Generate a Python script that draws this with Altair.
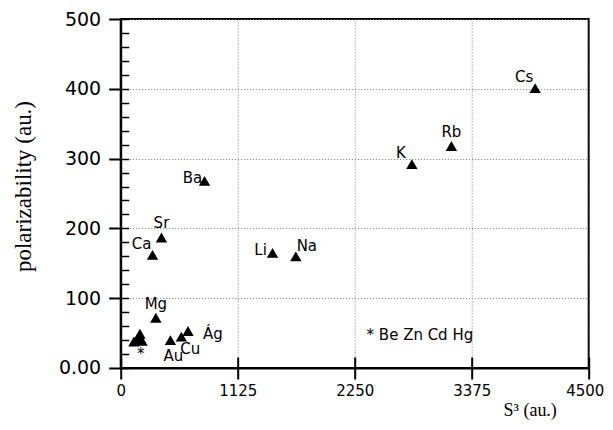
import altair as alt
import pandas as pd

# ---- data ----
names = ["Cs", "Rb", "K", "Ba", "Sr", "Ca", "Li", "Na", "Mg", "Ag", "Cu", "Au",
         "Be", "Zn", "Cd", "Hg"]
s3 = [3985, 3180, 2800, 806, 392, 306, 1460, 1684, 338, 647, 583, 478,
      127, 165, 205, 185]
polar = [401, 318, 292, 268, 187, 162, 165, 160, 72, 53, 45, 40,
         38, 43, 39, 49]
labels = ["Cs", "Rb", "K", "Ba", "Sr", "Ca", "Li", "Na", "Mg", "Ág", "Cu", "Au",
          "", "*", "", ""]
anchors = ["nw", "n", "nw", "w", "n", "nw", "w", "ne", "n", "e", "se", "s",
           "none", "s", "none", "none"]

x_ticks = [0, 1125, 2250, 3375, 4500]
y_ticks = [0, 100, 200, 300, 400, 500]
y_minor = list(range(0, 501, 20))

note_text = ["* Be Zn Cd Hg"]
note_x = [2877]
note_y = [47]

df = pd.DataFrame({"name": names, "s3": s3, "polar": polar,
                   "label": labels, "anchor": anchors})
note_df = pd.DataFrame({"text": note_text, "x": note_x, "y": note_y})

W, H = 468, 349
xscale = alt.Scale(domain=[0, 4500], nice=False, zero=False)
yscale = alt.Scale(domain=[0, 500], nice=False, zero=False)

main_x = alt.Axis(values=x_ticks, format="d", title="S³ (au.)", grid=True,
                  gridDash=[1, 2], gridColor="#777", gridWidth=1,
                  tickSize=11, tickWidth=2, tickColor="black",
                  domainColor="black", domainWidth=2,
                  labelFont="DejaVu Sans", labelFontSize=15, labelColor="black",
                  labelPadding=5, labelFlush=False,
                  labelOffset={"condition": {"test": "datum.value == 4500",
                                             "value": -4}, "value": 0},
                  titleFont="Liberation Serif", titleFontSize=18,
                  titleFontWeight="normal", titleColor="black",
                  titleX=409, titleY=43, titleBaseline="middle",
                  titleAlign="center")
main_y = alt.Axis(values=y_ticks, title="polarizability (au.)", grid=True,
                  gridDash=[1, 2], gridColor="#777", gridWidth=1,
                  tickSize=12, tickWidth=2, tickColor="black",
                  domainColor="black", domainWidth=2,
                  labelExpr="datum.value == 0 ? '0.00' : datum.label",
                  labelFont="DejaVu Sans", labelFontSize=19, labelColor="black",
                  labelPadding=8, labelFlush=False,
                  titleFont="Liberation Serif", titleFontSize=23,
                  titleFontWeight="normal", titleColor="black",
                  titleX=-97, titleY=167, titleBaseline="middle",
                  titleAlign="center")

inner_x = alt.Axis(orient="bottom", values=x_ticks, offset=-11, tickSize=11,
                   tickWidth=2, tickColor="black", domain=False, labels=False,
                   grid=False, title=None)
inner_y = alt.Axis(orient="left", values=y_minor, offset=-8, tickSize=8,
                   tickWidth=1.5, tickColor="black", domain=False, labels=False,
                   grid=False, title=None)

base = alt.Chart(df)

points = base.mark_point(shape="triangle-up", filled=True, color="black",
                         size=130, opacity=1).encode(
    x=alt.X("s3:Q", scale=xscale, axis=main_x),
    y=alt.Y("polar:Q", scale=yscale, axis=main_y),
)

ticks_inner = base.mark_point(opacity=0).encode(
    x=alt.X("s3:Q", scale=xscale, axis=inner_x),
    y=alt.Y("polar:Q", scale=yscale, axis=inner_y),
)

offsets = {
    "nw": (-11, -11, "center"),
    "n": (0, -14, "center"),
    "w": (-12, -3, "center"),
    "ne": (11, -10, "center"),
    "e": (15, 3, "left"),
    "se": (9, 12, "center"),
    "s": (3, 16, "center"),
}

text_layers = []
for a, (dx, dy, al) in offsets.items():
    text_layers.append(
        base.transform_filter(alt.datum.anchor == a).mark_text(
            dx=dx, dy=dy, align=al, baseline="middle",
            font="DejaVu Sans", fontSize=15, color="black"
        ).encode(
            x=alt.X("s3:Q", scale=xscale, axis=None),
            y=alt.Y("polar:Q", scale=yscale, axis=None),
            text="label:N",
        )
    )

note = alt.Chart(note_df).mark_text(
    align="center", baseline="middle", font="DejaVu Sans", fontSize=15,
    color="black"
).encode(
    x=alt.X("x:Q", scale=xscale, axis=None),
    y=alt.Y("y:Q", scale=yscale, axis=None),
    text="text:N",
)

chart = alt.layer(points, ticks_inner, *text_layers, note).resolve_axis(
    x="independent", y="independent"
).properties(
    width=W, height=H,
    autosize=alt.AutoSizeParams(type="none"),
    padding={"left": 112.7, "top": 11, "right": 16, "bottom": 54},
    background="white",
).configure_view(stroke="black", strokeWidth=2)

chart.save("out.html", embed_options={"renderer": "svg", "actions": False})
